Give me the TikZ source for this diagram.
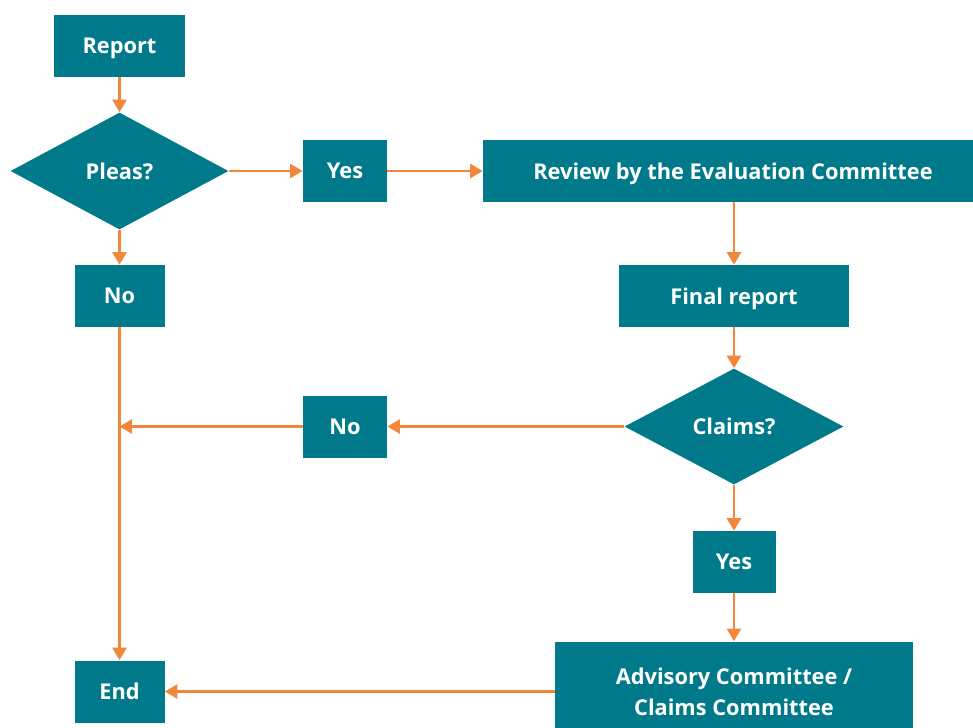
\documentclass[tikz,border=0pt]{standalone}
\usepackage{fontspec}
\setmainfont{Open Sans}
\usepackage{tikz}
\usetikzlibrary{shapes.geometric,arrows.meta}
\definecolor{boxteal}{RGB}{0,122,138}
\definecolor{lineorange}{RGB}{240,135,58}

\begin{document}
\begin{tikzpicture}[every node/.style={text=white,font=\fontsize{12.4}{17.6}\selectfont\bfseries,align=center,text depth=0pt},
	box/.style={shape=rectangle,fill=boxteal,minimum height=1.24cm},
	ask/.style={shape=diamond,fill=boxteal,inner sep=0pt},
	every edge/.style={draw=lineorange,line width=1.4pt,-{Triangle[length=0.25cm,width=0.28cm]}}]
	
	\useasboundingbox (0,0) rectangle (19.46,-14.54);
	
	\node[box,minimum width=2.62cm] (a) at (2.39,-0.92)     {Report};
	\node[ask,minimum width=4.36cm,minimum height=2.34cm] (b) at (2.39,-3.42)     {Pleas?};
	\node[box,minimum width=1.68cm] (c) at (6.9,-3.42)     {Yes};
	\node[box,minimum width=10cm] (d) at (14.66,-3.42)     {Review by the Evaluation Committee};
	\node[box,minimum width=1.8cm] (e) at (2.39,-5.92)     {No};
	\node[box,minimum width=4.6cm] (f) at (14.68,-5.92)     {Final report};
	\node[ask,minimum width=4.38cm,minimum height=2.32cm] (g) at (14.68,-8.53)     {Claims?};
	\node[box,minimum width=1.68cm] (h) at (6.9,-8.53)     {No};
	\node[box,minimum width=1.66cm] (i) at (14.68,-11.24)     {Yes};
	\node[box,minimum width=7.16cm,minimum height=2cm] (k) at (14.68,-13.83)     {Advisory Committee /\\Claims Committee};
	\node[box,minimum width=1.8cm] (j) at (2.39,-13.83)     {End};
	\coordinate (m) at (2.39,-8.53);
	

	\path (a) edge (b);
	\path (b) edge (c);
	\path (c) edge (d);
	\path (b) edge (e);
	\path (d.south -| f) edge (f);
	\path (f) edge (g);
	\path (g) edge (h);
	\path (h) edge (m);
	\path (e) edge (j);
	\path (g) edge (i);
	\path (i) edge (k);
	\path (k) edge (j);
	\end{tikzpicture}
\end{document}
